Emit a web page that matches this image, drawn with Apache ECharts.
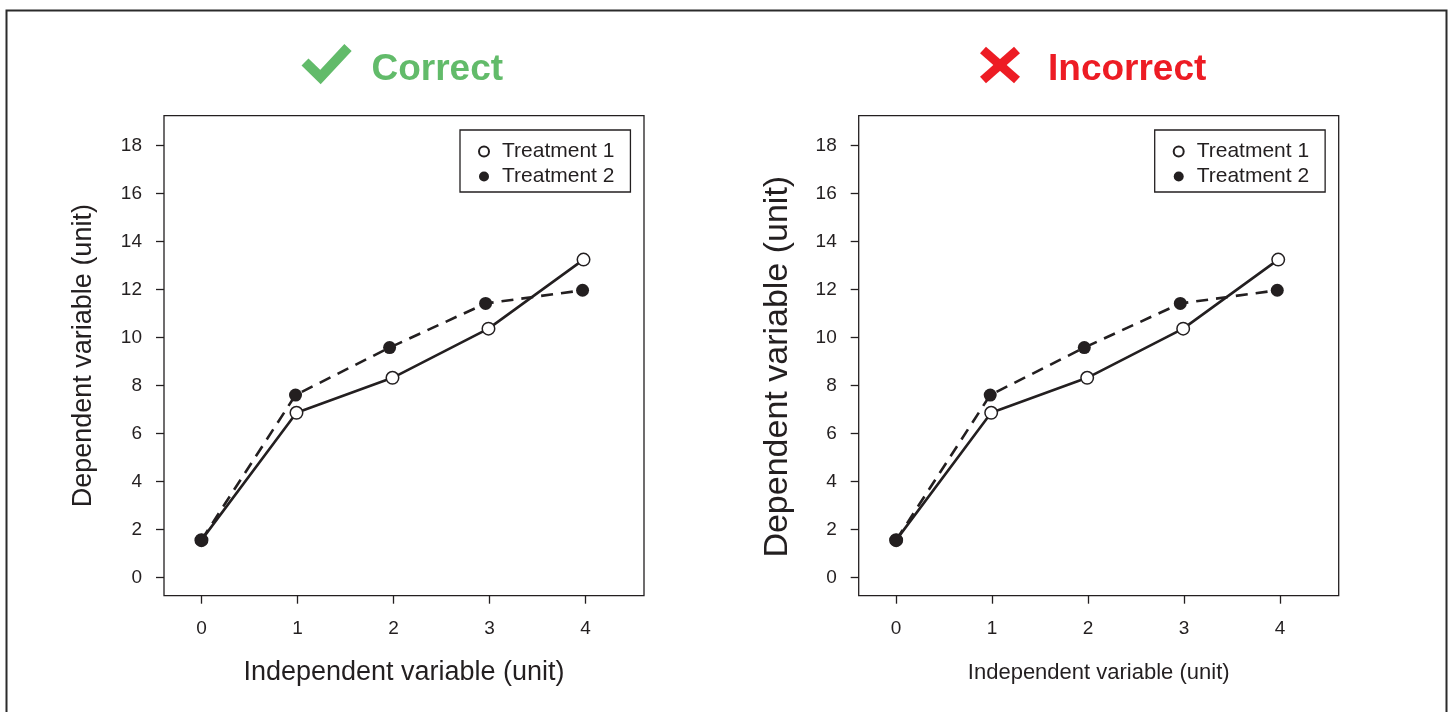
<!DOCTYPE html>
<html>
<head>
<meta charset="utf-8">
<script src="https://cdn.jsdelivr.net/npm/echarts@6/dist/echarts.min.js"></script>
<style>
html,body{margin:0;padding:0;background:#fff;}
#chart{width:1452px;height:712px;}
</style>
</head>
<body>
<div id="chart"></div>
<script>
// ---- data ----
const seriesNames = ['Treatment 1', 'Treatment 2'];
const t1X = [0, 0.99, 1.99, 2.99, 3.98];
const t1Y = [1.55, 6.86, 8.32, 10.37, 13.25];
const t2X = [0, 0.98, 1.96, 2.96, 3.97];
const t2Y = [1.55, 7.6, 9.58, 11.42, 11.97];
const xTicks = [0, 1, 2, 3, 4];
const yTicks = [0, 2, 4, 6, 8, 10, 12, 14, 16, 18];
const panelTitles = ['Correct', 'Incorrect'];
const xAxisTitle = 'Independent variable (unit)';
const yAxisTitle = 'Dependent variable (unit)';

const FONT = '"Liberation Sans", Arial, Helvetica, sans-serif';
const INK = '#231f20';
const GREEN = '#62bb6a';
const RED = '#ed1c24';

function pairs(xs, ys) { return xs.map((x, i) => [x, ys[i]]); }

const panels = [
  { left: 164, yNameSize: 27, yNameGap: 67, yNamePad: [0, 0, 0, 0], xNameSize: 27, xNameGap: 63 },
  { left: 858.7, yNameSize: 34, yNameGap: 64, yNamePad: [0, 22, 0, 0], xNameSize: 22, xNameGap: 66 }
];

const grids = [], xAxes = [], yAxes = [], series = [], legends = [];
panels.forEach((p, i) => {
  grids.push({
    left: p.left, top: 115.7, width: 480, height: 480,
    show: true, borderColor: INK, borderWidth: 1.3, backgroundColor: 'transparent'
  });
  xAxes.push({
    type: 'value', gridIndex: i, min: -0.39, max: 4.61,
    axisLine: { show: false, onZero: false },
    splitLine: { show: false },
    axisTick: { show: true, inside: false, length: 8, customValues: xTicks, lineStyle: { color: INK, width: 1.3 } },
    axisLabel: { show: true, margin: 24, customValues: xTicks, color: INK, fontSize: 19, fontFamily: FONT },
    name: xAxisTitle, nameLocation: 'middle', nameGap: p.xNameGap,
    nameTextStyle: { color: INK, fontSize: p.xNameSize, fontFamily: FONT }
  });
  yAxes.push({
    type: 'value', gridIndex: i, min: -0.767, max: 19.25,
    axisLine: { show: false, onZero: false },
    splitLine: { show: false },
    axisTick: { show: true, inside: false, length: 8, customValues: yTicks, lineStyle: { color: INK, width: 1.3 } },
    axisLabel: { show: true, margin: 22, customValues: yTicks, color: INK, fontSize: 19, fontFamily: FONT },
    name: yAxisTitle, nameLocation: 'middle', nameRotate: 90, nameGap: p.yNameGap,
    nameTextStyle: { color: INK, fontSize: p.yNameSize, fontFamily: FONT, padding: p.yNamePad }
  });
  series.push({
    name: seriesNames[0], type: 'line', xAxisIndex: i, yAxisIndex: i,
    data: pairs(t1X, t1Y), symbol: 'circle', symbolSize: 12.5, z: 2,
    lineStyle: { color: INK, width: 2.6, type: 'solid' },
    itemStyle: { color: '#ffffff', borderColor: INK, borderWidth: 1.5 },
    emphasis: { disabled: true }, animation: false
  });
  series.push({
    name: seriesNames[1], type: 'line', xAxisIndex: i, yAxisIndex: i,
    data: pairs(t2X, t2Y), symbol: 'circle', symbolSize: 13, z: 3,
    lineStyle: { color: INK, width: 2.6, type: [12, 8] },
    itemStyle: { color: INK, borderColor: INK, borderWidth: 0 },
    emphasis: { disabled: true }, animation: false
  });
  legends.push({
    data: seriesNames, orient: 'vertical',
    left: p.left + 296, top: 130,
    icon: 'circle', itemWidth: 10, itemHeight: 10, itemGap: 4,
    padding: [11, 16, 5, 18],
    borderColor: INK, borderWidth: 1.3, backgroundColor: '#fff',
    textStyle: { color: INK, fontSize: 21, fontFamily: FONT, padding: [0, 0, 0, 8] },
    selectedMode: false
  });
});

const option = {
  backgroundColor: '#fff',
  animation: false,
  title: [
    { text: panelTitles[0], left: 366.5, top: 46,
      textStyle: { color: GREEN, fontSize: 37, fontWeight: 'bold', fontFamily: FONT } },
    { text: panelTitles[1], left: 1043, top: 46,
      textStyle: { color: RED, fontSize: 37, fontWeight: 'bold', fontFamily: FONT } }
  ],
  legend: legends,
  grid: grids,
  xAxis: xAxes,
  yAxis: yAxes,
  series: series,
  graphic: [
    { type: 'rect', shape: { x: 6.5, y: 10.5, width: 1440, height: 760 },
      style: { fill: 'none', stroke: '#2b2b2b', lineWidth: 2 }, silent: true },
    { type: 'polyline', shape: { points: [[305, 62], [320.5, 77], [348, 47.5]] },
      style: { fill: 'none', stroke: GREEN, lineWidth: 10, lineJoin: 'miter', lineCap: 'butt' }, silent: true },
    { type: 'line', shape: { x1: 983, y1: 50, x2: 1017, y2: 80 },
      style: { stroke: RED, lineWidth: 9, lineCap: 'butt' }, silent: true },
    { type: 'line', shape: { x1: 1017, y1: 50, x2: 983, y2: 80 },
      style: { stroke: RED, lineWidth: 9, lineCap: 'butt' }, silent: true }
  ]
};

const chart = echarts.init(document.getElementById('chart'), null, { renderer: 'canvas' });
chart.setOption(option);
</script>
</body>
</html>
